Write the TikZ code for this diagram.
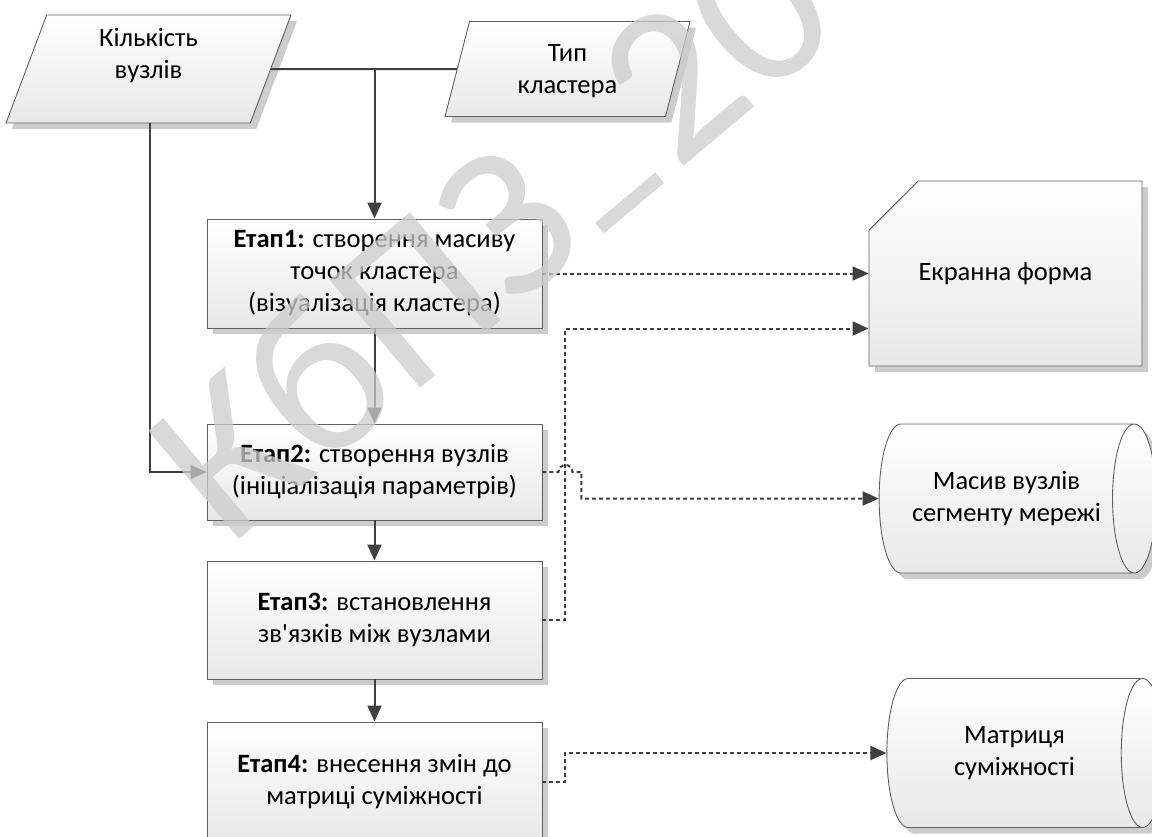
\documentclass[tikz,border=0pt]{standalone}
\usepackage{fontspec}
\setmainfont{Carlito}
\usetikzlibrary{shapes.geometric,shapes.misc,shadows,arrows.meta}
\definecolor{ink}{HTML}{404040}
\definecolor{rim}{HTML}{606060}
\tikzset{
  blk/.style={draw=rim, line width=0.9pt, top color=white, bottom color=black!9,
    align=center, inner sep=0pt, font=\fontsize{26.5}{32}\selectfont,
    drop shadow={shadow xshift=6pt, shadow yshift=-6pt, fill=black!20, opacity=1}},
  iobox/.style={blk, trapezium, trapezium stretches body=true,
    trapezium left angle=63.4, trapezium right angle=116.6},
  stagebox/.style={blk, rectangle, minimum width=335pt},
  card/.style={blk, chamfered rectangle, chamfered rectangle corners=north west,
    chamfered rectangle xsep=38pt, chamfered rectangle ysep=38pt},
  drum/.style={blk, cylinder, aspect=0.8, minimum width=149pt, minimum height=277pt},
  plain/.style={ink, line width=2pt},
  flow/.style={plain, -{Triangle[length=16pt,width=14pt]}},
  dataflow/.style={flow, dash pattern=on 4pt off 3pt},
}
\begin{document}
\begin{tikzpicture}[x=1pt,y=1pt]
  \useasboundingbox (0,0) rectangle (1152,-836);
  % input data
  \node[iobox, minimum width=285pt, minimum height=108pt, text depth=31pt] (kv) at (148.5,-69) {Кількість\\вузлів};
  \node[iobox, minimum width=245pt, minimum height=95pt, text depth=0pt] (tk) at (567.5,-69) {Тип\\кластера};
  % stages
  \node[stagebox, minimum height=109pt] (e1) at (374.5,-273.5) {\textbf{Етап1:} створення масиву\\точок кластера\\(візуалізація кластера)};
  \node[stagebox, minimum height=96pt] (e2) at (374.5,-472) {\textbf{Етап2:} створення вузлів\\(ініціалізація параметрів)};
  \node[stagebox, minimum height=118pt] (e3) at (374.5,-620) {\textbf{Етап3:} встановлення\\зв\textquotesingle язків між вузлами};
  \node[stagebox, minimum height=120pt] (e4) at (374.5,-782) {\textbf{Етап4:} внесення змін до\\матриці суміжності};
  % outputs
  \node[card, minimum width=273pt, minimum height=185pt] (scr) at (1005.5,-273.5) {Екранна форма};
  \node[drum] (arr) at (1006.5,-498.5) {Масив вузлів\\сегменту мережі};
  \node[drum] (mat) at (1014.5,-753) {Матриця\\суміжності};
  % solid flows
  \draw[plain] (kv.east) -- (tk.west);
  \draw[flow] (e1.north |- kv.east) -- (e1.north);
  \coordinate (kvout) at (150,-123);
  \draw[flow] (kvout) |- (e2.west);
  \draw[flow] (e1) -- (e2);
  \draw[flow] (e2) -- (e3);
  \draw[flow] (e3) -- (e4);
  % data flows
  \draw[dataflow] (e1.east) -- (scr.west);
  \draw[dataflow] (e3.east) -- ++(23,0) |- ([yshift=-55pt]scr.west);
  \draw[dataflow] (e2.east) -- ++(16,0) arc[start angle=180,end angle=0,radius=7pt] -- ++(9,0) |- (arr.west);
  \draw[dataflow] (e4.east) -- ++(23,0) |- (mat.west);
  % watermark
  \node[rotate=40, anchor=base west, text=black!20, text opacity=0.75,
    font=\fontsize{220}{220}\selectfont] (wm) at (226,-551) {КбПЗ\raisebox{-0.25em}{–}20};
\end{tikzpicture}
\end{document}
